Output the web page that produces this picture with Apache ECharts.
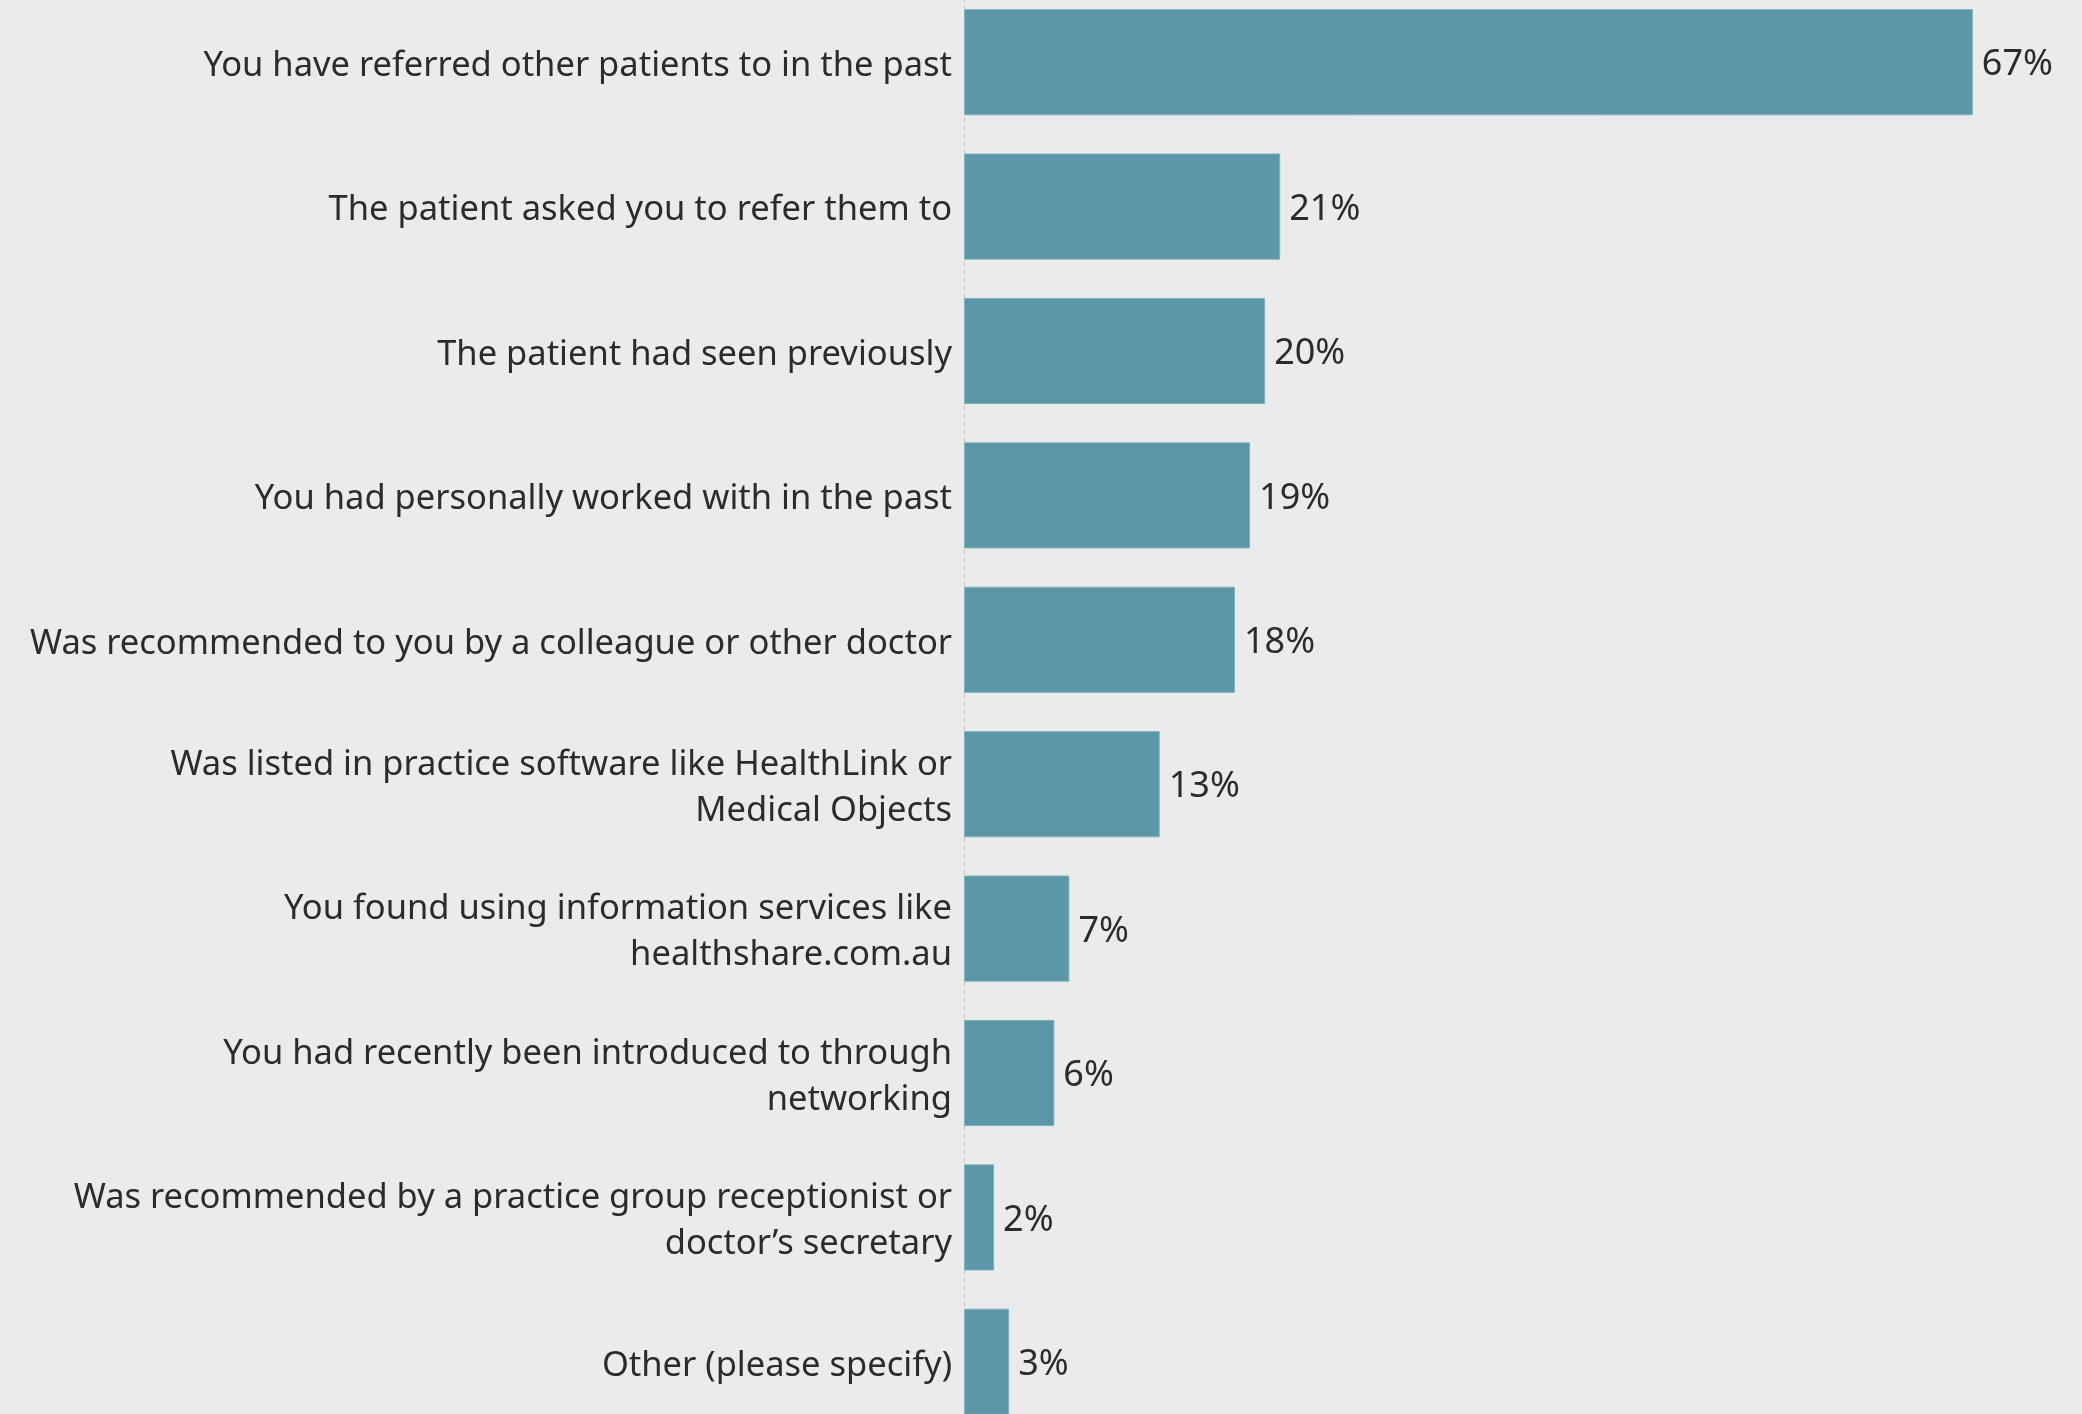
<!DOCTYPE html>
<html>
<head>
<meta charset="utf-8">
<style>
  html, body { margin: 0; padding: 0; background: #ebebeb; overflow: hidden; }
  /* Canvas runs a little past the top and bottom so the outer bars are cropped at the edges */
  #chart { width: 2082px; height: 1454px; margin-top: -10px; }
</style>
<script src="https://cdn.jsdelivr.net/npm/echarts@6/dist/echarts.min.js"></script>
</head>
<body>
<div id="chart"></div>
<script>
// Reasons for choosing a specialist, share of respondents (%)
const categories = [
  'You have referred other patients to in the past',
  'The patient asked you to refer them to',
  'The patient had seen previously',
  'You had personally worked with in the past',
  'Was recommended to you by a colleague or other doctor',
  'Was listed in practice software like HealthLink or\nMedical Objects',
  'You found using information services like\nhealthshare.com.au',
  'You had recently been introduced to through\nnetworking',
  'Was recommended by a practice group receptionist or\ndoctor\u2019s secretary',
  'Other (please specify)'
];
const values = [67, 21, 20, 19, 18, 13, 7, 6, 2, 3];

const chart = echarts.init(document.getElementById('chart'), null, { renderer: 'canvas' });
const fontFamily = '"Noto Sans", "Open Sans", sans-serif';

chart.setOption({
  backgroundColor: '#ebebeb',
  animation: false,
  grid: { left: 964, right: 64, top: 0, height: 1444, containLabel: false },
  xAxis: {
    type: 'value',
    min: 0,
    max: 70,
    show: false
  },
  yAxis: {
    type: 'category',
    inverse: true,
    data: categories,
    axisLine: { show: true, lineStyle: { color: '#c8c8c8', type: [4, 4], width: 1 } },
    axisTick: { show: false },
    axisLabel: {
      align: 'right',
      margin: 12,
      // each line is a rich token so the text sits slightly below the band centre
      formatter: v => v.split('\n').map(s => '{a|' + s + '}').join('\n'),
      rich: {
        a: {
          color: '#2b2b2b',
          fontFamily: fontFamily,
          fontSize: 34.5,
          lineHeight: 46,
          padding: [8, 0, 0, 0],
          align: 'right'
        }
      }
    }
  },
  series: [{
    type: 'bar',
    data: values,
    barCategoryGap: '26.5%',
    itemStyle: { color: '#5b97a7', borderColor: '#7fb0bd', borderWidth: 1 },
    label: {
      show: true,
      position: 'right',
      distance: 9,
      offset: [0, 3],
      formatter: '{c}%',
      color: '#2b2b2b',
      fontFamily: fontFamily,
      fontSize: 36
    }
  }]
});
</script>
</body>
</html>
